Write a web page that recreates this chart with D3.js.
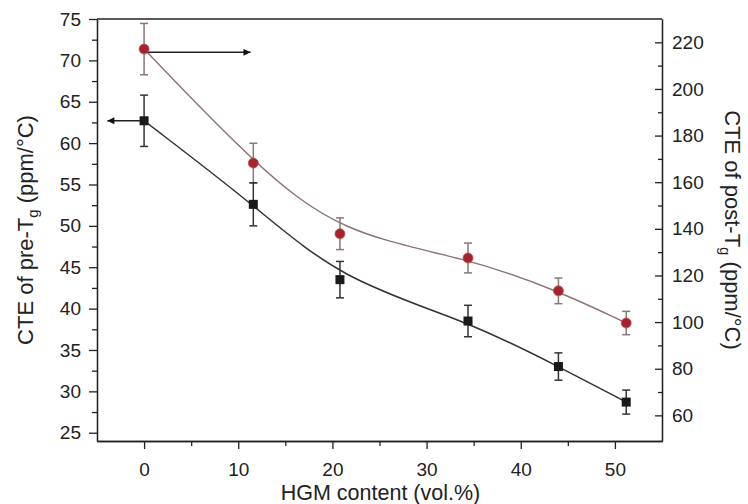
<!DOCTYPE html>
<html>
<head>
<meta charset="utf-8">
<script src="https://cdn.jsdelivr.net/npm/d3@7"></script>
<style>
  body { margin: 0; background: #fff; }
  svg { font-family: "Liberation Sans", Arial, sans-serif; }
  .axis text { font-size: 19px; fill: #222; }
  .axis path, .axis line { stroke: #222; stroke-width: 1.3; }
</style>
</head>
<body>
<svg width="748" height="504"></svg>
<script>
const svg = d3.select("svg");
const width = +svg.attr("width");
const height = +svg.attr("height");

const margin = { top: 19, right: 86, bottom: 63, left: 97 };

// HGM content (vol.%)
const hgm = [0, 11.6, 20.8, 34.4, 44.0, 51.2];
// CTE of pre-Tg (left axis)
const preTg = [62.7, 52.6, 43.5, 38.5, 33.0, 28.7];
const preTgErr = [3.1, 2.6, 2.2, 1.9, 1.65, 1.45];
// CTE of post-Tg (right axis)
const postTg = [217.1, 168.2, 137.9, 127.5, 113.4, 99.6];
const postTgErr = [11, 8.5, 6.8, 6.4, 5.5, 5.0];

const xTicks = [0, 10, 20, 30, 40, 50];
const leftTicks = [25, 30, 35, 40, 45, 50, 55, 60, 65, 70, 75];
const rightTicks = [60, 80, 100, 120, 140, 160, 180, 200, 220];

const x = d3.scaleLinear().domain([-5, 55]).range([margin.left, width - margin.right]);
const yL = d3.scaleLinear().domain([24, 75]).range([height - margin.bottom, margin.top]);
const yR = d3.scaleLinear().domain([49, 230]).range([height - margin.bottom, margin.top]);

const blackCol = "#1a1a1a";
const redCol = "#a3242c";
const redLine = "#8c7474";

// minor ticks
svg.append("g")
    .attr("class", "axis")
    .attr("transform", `translate(0,${height - margin.bottom})`)
    .call(d3.axisBottom(x).tickValues([5, 15, 25, 35, 45]).tickSize(5).tickSizeOuter(0).tickFormat(""));
svg.append("g")
    .attr("class", "axis")
    .attr("transform", `translate(${margin.left},0)`)
    .call(d3.axisLeft(yL).tickValues(d3.range(27.5, 75, 5)).tickSize(5).tickSizeOuter(0).tickFormat(""));
svg.append("g")
    .attr("class", "axis")
    .attr("transform", `translate(${width - margin.right},0)`)
    .call(d3.axisRight(yR).tickValues(d3.range(70, 220, 20)).tickSize(-4).tickSizeOuter(0).tickFormat(""));

// major axes
svg.append("g")
    .attr("class", "axis")
    .attr("transform", `translate(0,${height - margin.bottom})`)
    .call(d3.axisBottom(x).tickValues(xTicks).tickSize(8).tickSizeOuter(0).tickPadding(14));

svg.append("g")
    .attr("class", "axis")
    .attr("transform", `translate(${margin.left},0)`)
    .call(d3.axisLeft(yL).tickValues(leftTicks).tickSize(8).tickSizeOuter(0).tickPadding(8));

svg.append("g")
    .attr("class", "axis")
    .attr("transform", `translate(${width - margin.right},0)`)
    .call(d3.axisRight(yR).tickValues(rightTicks).tickSize(-7).tickSizeOuter(0).tickPadding(10));

// top border
svg.append("line")
    .attr("x1", margin.left).attr("x2", width - margin.right)
    .attr("y1", margin.top).attr("y2", margin.top)
    .attr("stroke", "#222").attr("stroke-width", 1.3);

// axis titles
svg.append("text")
    .attr("x", (margin.left + width - margin.right) / 2 + 1)
    .attr("y", 500)
    .attr("text-anchor", "middle")
    .attr("font-size", 21.5)
    .attr("fill", "#222")
    .text("HGM content (vol.%)");

function titleWithSub(t, pre, post) {
    t.append("tspan").text(pre);
    t.append("tspan").attr("font-size", 15).attr("dy", "0.35em").text("g");
    t.append("tspan").attr("dy", "-0.25em").text(post);
}

svg.append("text")
    .attr("transform", `translate(33,${(margin.top + height - margin.bottom) / 2}) rotate(-90)`)
    .attr("text-anchor", "middle")
    .attr("font-size", 22)
    .attr("fill", "#222")
    .call(titleWithSub, "CTE of pre-T", " (ppm/°C)");

svg.append("text")
    .attr("transform", `translate(725,${(margin.top + height - margin.bottom) / 2}) rotate(90)`)
    .attr("text-anchor", "middle")
    .attr("font-size", 22)
    .attr("fill", "#222")
    .call(titleWithSub, "CTE of post-T", " (ppm/°C)");

// fitted curves
const lineL = d3.line().curve(d3.curveBasis)
    .x((d, i) => x(hgm[i]))
    .y(d => yL(d));
const lineR = d3.line().curve(d3.curveBasis)
    .x((d, i) => x(hgm[i]))
    .y(d => yR(d));

svg.append("path")
    .datum(postTg)
    .attr("fill", "none")
    .attr("stroke", redLine)
    .attr("stroke-width", 1.4)
    .attr("d", lineR);

svg.append("path")
    .datum(preTg)
    .attr("fill", "none")
    .attr("stroke", "#333")
    .attr("stroke-width", 1.5)
    .attr("d", lineL);

// arrows
svg.append("defs").append("marker")
    .attr("id", "arrow")
    .attr("viewBox", "0 0 10 10")
    .attr("refX", 10).attr("refY", 5)
    .attr("markerUnits", "userSpaceOnUse")
    .attr("markerWidth", 11).attr("markerHeight", 7)
    .attr("orient", "auto")
    .append("path")
    .attr("d", "M0,0L10,5L0,10z")
    .attr("fill", "#111");

svg.append("line")
    .attr("x1", x(0)).attr("x2", x(11.3))
    .attr("y1", yR(215.7)).attr("y2", yR(215.7))
    .attr("stroke", "#222").attr("stroke-width", 1.5)
    .attr("marker-end", "url(#arrow)");

svg.append("line")
    .attr("x1", x(0)).attr("x2", x(-3.9))
    .attr("y1", yL(62.7)).attr("y2", yL(62.7))
    .attr("stroke", "#222").attr("stroke-width", 1.5)
    .attr("marker-end", "url(#arrow)");

// error bars
function errorBars(vals, errs, y, color) {
    const g = svg.append("g").attr("stroke", color).attr("stroke-width", 1.5);
    vals.forEach((v, i) => {
        const cx = x(hgm[i]);
        g.append("line").attr("x1", cx).attr("x2", cx).attr("y1", y(v - errs[i])).attr("y2", y(v + errs[i]));
        g.append("line").attr("x1", cx - 4).attr("x2", cx + 4).attr("y1", y(v - errs[i])).attr("y2", y(v - errs[i]));
        g.append("line").attr("x1", cx - 4).attr("x2", cx + 4).attr("y1", y(v + errs[i])).attr("y2", y(v + errs[i]));
    });
}
errorBars(postTg, postTgErr, yR, "#8a7676");
errorBars(preTg, preTgErr, yL, "#333");

// markers
svg.selectAll(".circle")
    .data(postTg)
    .enter().append("circle")
    .attr("class", "circle")
    .attr("cx", (d, i) => x(hgm[i]))
    .attr("cy", d => yR(d))
    .attr("r", 5)
    .attr("fill", redCol)
    .attr("stroke", "#c0565c")
    .attr("stroke-width", 0.8);

svg.selectAll(".square")
    .data(preTg)
    .enter().append("rect")
    .attr("class", "square")
    .attr("x", (d, i) => x(hgm[i]) - 4.5)
    .attr("y", d => yL(d) - 4.5)
    .attr("width", 9)
    .attr("height", 9)
    .attr("fill", blackCol);
</script>
</body>
</html>
